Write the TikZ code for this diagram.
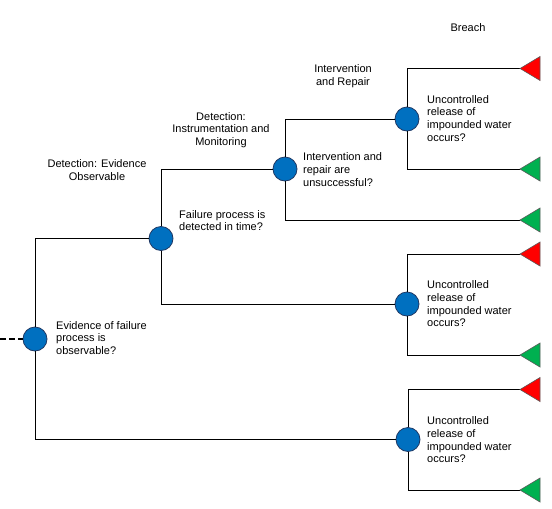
\documentclass[tikz,border=0pt]{standalone}
\usepackage{fontspec}
\setmainfont{Liberation Sans}
\usetikzlibrary{positioning}

\definecolor{chanceblue}{RGB}{0,112,192}
\definecolor{chanceline}{RGB}{31,56,100}
\definecolor{breachred}{RGB}{255,0,0}
\definecolor{safegreen}{RGB}{0,176,80}

\begin{document}
\begin{tikzpicture}[x=1pt, y=-1pt,
        chance/.style={circle, draw=chanceline, fill=chanceblue, line width=0.8pt,
                minimum size=24pt, inner sep=0pt},
        label/.style={font=\fontsize{11}{12.7}\selectfont, inner sep=0pt},
        question/.style={label, align=left, anchor=west},
        heading/.style={label, align=center},
        branch/.style={line width=0.9pt},
        endtri/.style={draw=black!65, line width=0.6pt}]
        \useasboundingbox (0, 0) rectangle (552, 509);
        % chance nodes
        \node[chance] (c1) at (35, 339) {};
        \node[chance] (c2) at (161, 238.5) {};
        \node[chance] (c3) at (285, 169) {};
        \node[chance] (c4) at (407, 119) {};
        \node[chance] (c5) at (407, 304) {};
        \node[chance] (c6) at (408, 439.5) {};
        % end points (triangle tips)
        \coordinate (t1) at (520, 68.5);
        \coordinate (t2) at (520, 169);
        \coordinate (t3) at (520, 220);
        \coordinate (t4) at (520, 254);
        \coordinate (t5) at (520, 355);
        \coordinate (t6) at (520, 389.5);
        \coordinate (t7) at (520, 490);
        \coordinate (in) at (0, 339);
        % branches
        \draw[branch, dashed, dash pattern=on 6pt off 3pt, line width=1.6pt] (in) -- (c1);
        \draw[branch] (c1) |- (c2);
        \draw[branch] (c1) |- (c6);
        \draw[branch] (c2) |- (c3);
        \draw[branch] (c2) |- (c5);
        \draw[branch] (c3) |- (c4);
        \draw[branch] (c3) |- (t3);
        \draw[branch] (c4) |- (t1);
        \draw[branch] (c4) |- (t2);
        \draw[branch] (c5) |- (t4);
        \draw[branch] (c5) |- (t5);
        \draw[branch] (c6) |- (t6);
        \draw[branch] (c6) |- (t7);
        % outcome triangles
        \foreach \t/\c in {t1/breachred, t2/safegreen, t3/safegreen, t4/breachred,
                t5/safegreen, t6/breachred, t7/safegreen}
                \filldraw[endtri, fill=\c] (\t) -- ++(20, -12) -- ++(0, 24) -- cycle;
        % column headings
        \node[heading] (hbreach) at (468, 28) {Breach};
        \node[heading] (hrepair) at (343, 76.5) {Intervention\\and Repair};
        \node[heading] (hinstr) at (221, 130) {Detection:\\Instrumentation and\\Monitoring};
        \node[heading] (hevid) at (97, 170) {Detection: Evidence\\Observable};
        % questions
        \node[question] (q1) at (56, 338) {Evidence of failure\\process is\\observable?};
        \node[question] (q2) at (179, 220.7) {Failure process is\\detected in time?};
        \node[question] (q3) at (303, 169.5) {Intervention and\\repair are\\unsuccessful?};
        \node[question] (q4) at (427, 118.3) {Uncontrolled\\release of\\impounded water\\occurs?};
        \node[question] (q5) at (427, 304) {Uncontrolled\\release of\\impounded water\\occurs?};
        \node[question] (q6) at (427, 440) {Uncontrolled\\release of\\impounded water\\occurs?};
\end{tikzpicture}
\end{document}
